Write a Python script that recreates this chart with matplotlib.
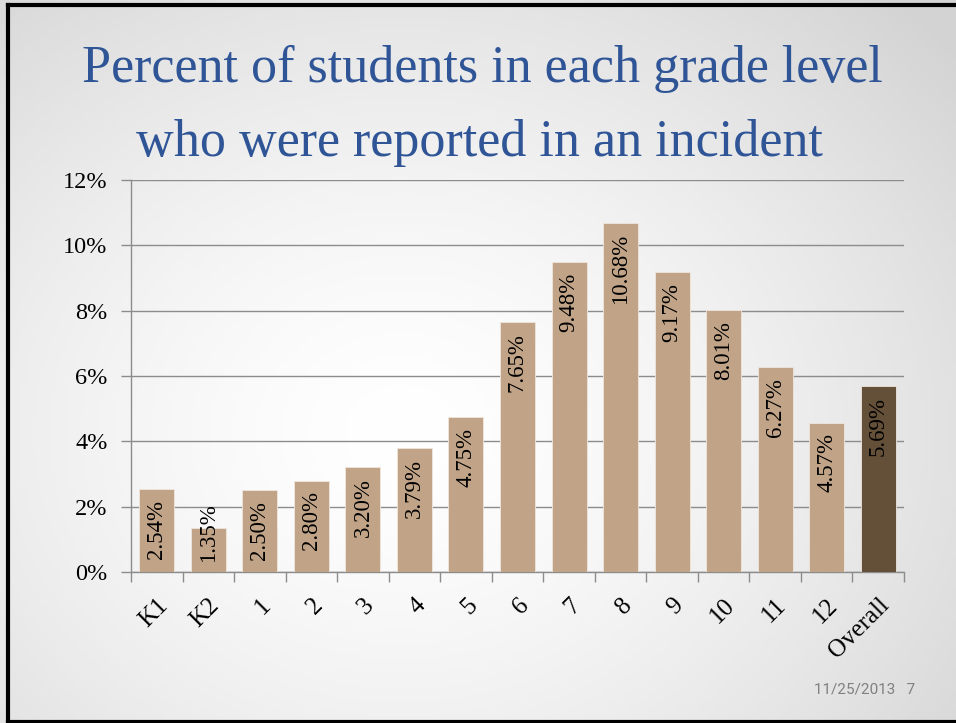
import numpy as np
import matplotlib
matplotlib.use("Agg")
import matplotlib.pyplot as plt

grades = ["K1", "K2", "1", "2", "3", "4", "5", "6", "7", "8", "9", "10", "11", "12", "Overall"]
pct = [2.54, 1.35, 2.50, 2.80, 3.20, 3.79, 4.75, 7.65, 9.48, 10.68, 9.17, 8.01, 6.27, 4.57, 5.69]
labels = ["2.54%", "1.35%", "2.50%", "2.80%", "3.20%", "3.79%", "4.75%", "7.65%",
          "9.48%", "10.68%", "9.17%", "8.01%", "6.27%", "4.57%", "5.69%"]
yticks = [0, 2, 4, 6, 8, 10, 12]

W, H = 956, 723
fig = plt.figure(figsize=(W / 100, H / 100), dpi=100)

# slide background: soft gray gradient
bg = fig.add_axes([0, 0, 1, 1], zorder=-10)
yy, xx = np.mgrid[0:1:200j, 0:1:260j]
d = np.sqrt((xx - 0.42) ** 2 + ((yy - 0.40) * 0.9) ** 2)
g = 1.0 - 0.17 * np.clip(d / 0.75, 0, 1) ** 1.5
bg.imshow(np.dstack([g, g, g]), extent=[0, 1, 0, 1], aspect="auto", origin="lower")
bg.set_xlim(0, 1)
bg.set_ylim(0, 1)
bg.axis("off")
# slide border
bg.plot([0.008, 0.008], [0.002, 0.993], color="black", lw=3)
bg.plot([0.008, 1.0], [0.993, 0.993], color="black", lw=3)
bg.plot([0.008, 1.0], [0.002, 0.002], color="black", lw=3)

serif = "Liberation Serif"
fig.text(0.505, 1 - 82 / H, "Percent of students in each grade level", ha="center",
         va="baseline", fontsize=37.5, family=serif, color="#2F5597")
fig.text(0.502, 1 - 156 / H, "who were reported in an incident", ha="center",
         va="baseline", fontsize=37.5, family=serif, color="#2F5597")
fig.text(915 / W, 1 - 693 / H, "11/25/2013   7", ha="right", va="baseline",
         fontsize=11, family="Roboto", color="#808080")

x0, x1, y0, y1 = 131, 904, 572, 180
ax = fig.add_axes([x0 / W, 1 - y0 / H, (x1 - x0) / W, (y0 - y1) / H])
ax.patch.set_alpha(0)
colors = ["#C1A487"] * 14 + ["#644F38"]
x = np.arange(len(grades))
ax.bar(x, pct, width=0.68, color=colors, edgecolor="#efe6dc", linewidth=0.6, zorder=3)
ax.set_xlim(-0.5, len(grades) - 0.5)
ax.set_ylim(0, 12)
ax.set_yticks(yticks)
ax.set_yticklabels([f"{t}%" for t in yticks], family=serif, fontsize=17.5)
ax.yaxis.grid(True, color="#8c8c8c", lw=1.0, zorder=0)
ax.tick_params(axis="y", length=7, color="#8c8c8c", width=1.0, pad=10)
ax.set_xticks(x)
ax.set_xticklabels(grades, rotation=45, ha="right", rotation_mode="anchor",
                   family=serif, fontsize=18)
ax.tick_params(axis="x", length=0, pad=16)
ax.set_xticks(np.arange(len(grades) + 1) - 0.5, minor=True)
ax.tick_params(axis="x", which="minor", length=7, color="#8c8c8c", width=1.0)
for s in ["top", "right"]:
    ax.spines[s].set_visible(False)
for s in ["left", "bottom"]:
    ax.spines[s].set_color("#8c8c8c")
    ax.spines[s].set_linewidth(1.0)

for xi, v, lab in zip(x, pct, labels):
    ytop = max(v - 0.33, 2.11)
    ax.text(xi, ytop, lab, rotation=90, ha="center", va="top", family=serif,
            fontsize=16.5, color="black", zorder=4)

fig.savefig("out.png", dpi=100)
